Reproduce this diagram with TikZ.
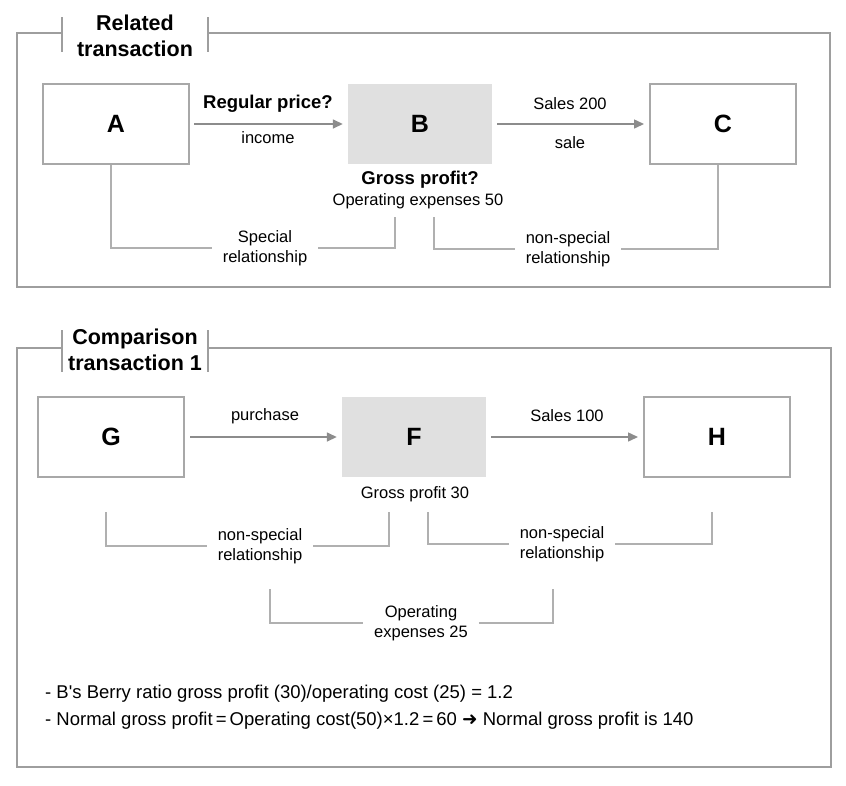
\documentclass[tikz,border=0pt]{standalone}
\usepackage{fontspec}
\setmainfont{Liberation Sans}
\newfontfamily\notefont{Liberation Sans}
\newfontfamily\symfont{DejaVu Sans}
\usetikzlibrary{arrows.meta}
\definecolor{framegray}{RGB}{158,158,158}
\definecolor{boxgray}{RGB}{168,168,168}
\definecolor{arrowgray}{RGB}{140,140,140}
\definecolor{linegray}{RGB}{176,176,176}
\definecolor{fillgray}{RGB}{224,224,224}
\tikzset{
  frame/.style={draw=framegray, line width=2.6pt},
  tick/.style={draw=framegray, line width=1.6pt},
  titletext/.style={font=\fontsize{21.5}{26}\selectfont\bfseries, align=center, inner sep=0pt},
  party/.style={draw=boxgray, line width=2pt, minimum width=146pt, minimum height=80pt, font=\fontsize{25}{28}\selectfont\bfseries},
  tested/.style={fill=fillgray, minimum width=144pt, minimum height=80pt, font=\fontsize{25}{28}\selectfont\bfseries},
  flow/.style={draw=arrowgray, line width=1.5pt, -{Triangle[length=10pt,width=9pt]}},
  bracket/.style={draw=linegray, line width=1.6pt},
  lbl/.style={font=\fontsize{16.5}{19}\selectfont, inner sep=0pt},
  blbl/.style={font=\fontsize{18.5}{21}\selectfont\bfseries, inner sep=0pt},
  rel/.style={font=\fontsize{16.5}{20}\selectfont, align=center, inner ysep=0pt, inner xsep=11pt},
  note/.style={font=\notefont\fontsize{18.5}{22}\selectfont, anchor=west, inner sep=0pt}
}
\begin{document}
\begin{tikzpicture}[x=1pt,y=-1pt]
\useasboundingbox (0,0) rectangle (846,785);
\fill[white] (0,0) rectangle (846,785);

% ---------- Related transaction ----------
\draw[frame] (62,33) -- (17,33) -- (17,287) -- (830,287) -- (830,33) -- (208,33);
\draw[tick] (62,17) -- (62,52);
\draw[tick] (208,17) -- (208,52);
\node[titletext] (t1) at (135,36) {Related\\transaction};

\node[party] (A) at (116,124) {A};
\node[tested] (B) at (420,124) {B};
\node[party] (C) at (723,124) {C};

\draw[flow] ([xshift=4pt]A.east) -- ([xshift=-5pt]B.west);
\draw[flow] ([xshift=5pt]B.east) -- ([xshift=-5pt]C.west);

\node[blbl] (rp) at (268,104) {Regular price?};
\node[lbl] (inc) at (268,138) {income};
\node[lbl] (s200) at (570,104) {Sales 200};
\node[lbl] (sale) at (570,143) {sale};

\node[blbl] (gp) at (420,180) {Gross profit?};
\node[lbl] (opx) at (418,201) {Operating expenses 50};

\node[rel] (sp) at (265,248) {Special\\relationship};
\node[rel] (nsp1) at (568,249) {non-special\\relationship};
\coordinate (bl) at (395,217);
\coordinate (br) at (434,217);

\draw[bracket] ([xshift=-5pt]A.south) |- (sp.west);
\draw[bracket] (sp.east) -| (bl);
\draw[bracket] (br) |- (nsp1.west);
\draw[bracket] (nsp1.east) -| ([xshift=-5pt]C.south);

% ---------- Comparison transaction 1 ----------
\draw[frame] (62,348) -- (17,348) -- (17,767) -- (831,767) -- (831,348) -- (208,348);
\draw[tick] (62,330) -- (62,372);
\draw[tick] (208,330) -- (208,372);
\node[titletext] (t2) at (135,350) {Comparison\\transaction 1};

\node[party] (G) at (111,437) {G};
\node[tested] (F) at (414,437) {F};
\node[party] (H) at (717,437) {H};

\draw[flow] ([xshift=5pt]G.east) -- ([xshift=-5pt]F.west);
\draw[flow] ([xshift=5pt]F.east) -- ([xshift=-5pt]H.west);

\node[lbl] (pur) at (265,416) {purchase};
\node[lbl] (s100) at (567,416) {Sales 100};
\node[lbl] (gp30) at (415,494) {Gross profit 30};

\coordinate (g1) at (106,512);
\coordinate (f1) at (389,512);
\coordinate (f2) at (428,512);
\coordinate (h1) at (712,512);
\node[rel] (nsp2) at (260,546) {non-special\\relationship};
\node[rel] (nsp3) at (562,544) {non-special\\relationship};
\draw[bracket] (g1) |- (nsp2.west);
\draw[bracket] (nsp2.east) -| (f1);
\draw[bracket] (f2) |- (nsp3.west);
\draw[bracket] (nsp3.east) -| (h1);

\coordinate (o1) at (270,589);
\coordinate (o2) at (553,589);
\node[rel] (opx25) at (421,623) {Operating\\expenses 25};
\draw[bracket] (o1) |- (opx25.west);
\draw[bracket] (opx25.east) -| (o2);

\node[note] (n1) at (45,694) {- B's Berry ratio gross profit (30)/operating cost (25) = 1.2};
\node[note] (n2) at (45,721) {- Normal gross profit\,=\,Operating cost(50)\texttimes 1.2\,=\,60 {\symfont ➜} Normal gross profit is 140};
\end{tikzpicture}
\end{document}
